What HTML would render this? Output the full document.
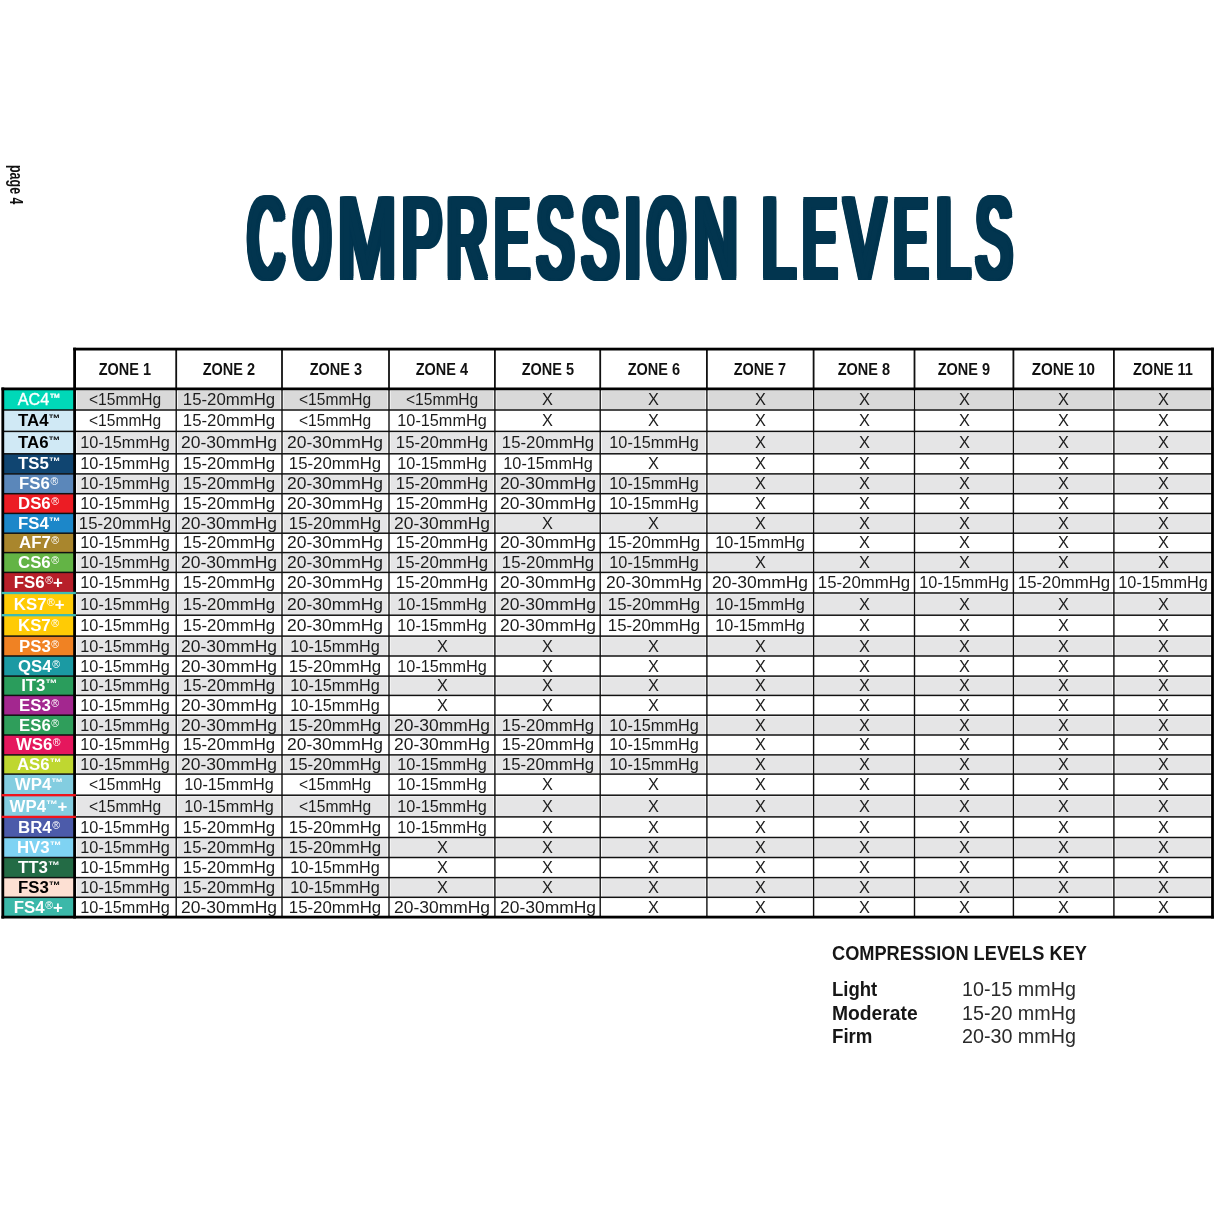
<!DOCTYPE html><html lang="en"><head><meta charset="utf-8"><title>Compression Levels</title><style>html,body{margin:0;padding:0;background:#fff}
body{width:1214px;height:1214px;position:relative;overflow:hidden;font-family:"Liberation Sans",sans-serif;color:#111}
#bg{position:absolute;left:0;top:0}
.t{position:absolute;white-space:nowrap;text-align:center;line-height:20px;height:20px;font-size:16px}
.t span{display:inline-block}
.h{font-weight:700;color:#111}
.c{color:#1c1c1c}
.l sup{line-height:0;font-size:11px;vertical-align:3.8px}
.l sup.r{font-size:10px;vertical-align:4.3px;margin-left:0.5px;font-weight:400}
h1{margin:0;position:absolute;left:0;top:0;font-size:120px;line-height:120px;font-weight:700;color:#02354f;white-space:nowrap}
h1 span{position:absolute;top:0;display:block;transform-origin:0 0}
#pg{position:absolute;font-size:19px;line-height:20px;white-space:nowrap;transform-origin:0 0;color:#111;font-weight:700}
#key{position:absolute;left:832px;top:0;color:#161616}
#key div{position:absolute;white-space:nowrap;transform-origin:0 0}
</style></head><body><svg id="bg" width="1214" height="1214" viewBox="0 0 1214 1214"><rect x="2.8" y="388.9" width="71.8" height="21.1" fill="#00d8b8"/><rect x="2.8" y="410.0" width="71.8" height="21.4" fill="#d0e9f5"/><rect x="2.8" y="431.4" width="71.8" height="22.4" fill="#d0e9f5"/><rect x="2.8" y="453.8" width="71.8" height="20.1" fill="#104571"/><rect x="2.8" y="473.9" width="71.8" height="19.8" fill="#5b87ba"/><rect x="2.8" y="493.7" width="71.8" height="19.7" fill="#ec1c24"/><rect x="2.8" y="513.4" width="71.8" height="19.8" fill="#1c87c9"/><rect x="2.8" y="533.2" width="71.8" height="19.4" fill="#a9862d"/><rect x="2.8" y="552.6" width="71.8" height="19.8" fill="#63b445"/><rect x="2.8" y="572.4" width="71.8" height="20.6" fill="#b71f29"/><rect x="2.8" y="593.0" width="71.8" height="22.2" fill="#ffcb05"/><rect x="2.8" y="615.2" width="71.8" height="20.9" fill="#ffcb05"/><rect x="2.8" y="636.1" width="71.8" height="19.9" fill="#f08223"/><rect x="2.8" y="656.0" width="71.8" height="20.1" fill="#1b9aa3"/><rect x="2.8" y="676.1" width="71.8" height="19.3" fill="#2a9d5c"/><rect x="2.8" y="695.4" width="71.8" height="19.8" fill="#a3278f"/><rect x="2.8" y="715.2" width="71.8" height="19.8" fill="#2f9e5b"/><rect x="2.8" y="735.0" width="71.8" height="19.9" fill="#e5175d"/><rect x="2.8" y="754.9" width="71.8" height="19.2" fill="#bfd730"/><rect x="2.8" y="774.1" width="71.8" height="21.1" fill="#83cde0"/><rect x="2.8" y="795.2" width="71.8" height="21.7" fill="#83cde0"/><rect x="2.8" y="816.9" width="71.8" height="20.6" fill="#4c5baa"/><rect x="2.8" y="837.5" width="71.8" height="20.0" fill="#7fd3f3"/><rect x="2.8" y="857.5" width="71.8" height="20.1" fill="#236b45"/><rect x="2.8" y="877.6" width="71.8" height="19.7" fill="#fde0d3"/><rect x="2.8" y="897.3" width="71.8" height="19.8" fill="#3bb8a9"/><rect x="76.6" y="390.8" width="98.1" height="18.5" fill="#d9d9d9"/><rect x="177.7" y="390.8" width="102.8" height="18.5" fill="#d9d9d9"/><rect x="283.5" y="390.8" width="104.0" height="18.5" fill="#d9d9d9"/><rect x="390.5" y="390.8" width="102.9" height="18.5" fill="#d9d9d9"/><rect x="496.4" y="390.8" width="102.3" height="18.5" fill="#d9d9d9"/><rect x="601.7" y="390.8" width="103.7" height="18.5" fill="#d9d9d9"/><rect x="708.4" y="390.8" width="103.7" height="18.5" fill="#d9d9d9"/><rect x="815.1" y="390.8" width="97.9" height="18.5" fill="#d9d9d9"/><rect x="916.0" y="390.8" width="95.9" height="18.5" fill="#d9d9d9"/><rect x="1014.9" y="390.8" width="97.5" height="18.5" fill="#d9d9d9"/><rect x="1115.4" y="390.8" width="95.1" height="18.5" fill="#d9d9d9"/><rect x="76.6" y="432.6" width="98.1" height="20.5" fill="#e5e5e6"/><rect x="177.7" y="432.6" width="102.8" height="20.5" fill="#e5e5e6"/><rect x="283.5" y="432.6" width="104.0" height="20.5" fill="#e5e5e6"/><rect x="390.5" y="432.6" width="102.9" height="20.5" fill="#e5e5e6"/><rect x="496.4" y="432.6" width="102.3" height="20.5" fill="#e5e5e6"/><rect x="601.7" y="432.6" width="103.7" height="20.5" fill="#e5e5e6"/><rect x="708.4" y="432.6" width="103.7" height="20.5" fill="#e5e5e6"/><rect x="815.1" y="432.6" width="97.9" height="20.5" fill="#e5e5e6"/><rect x="916.0" y="432.6" width="95.9" height="20.5" fill="#e5e5e6"/><rect x="1014.9" y="432.6" width="97.5" height="20.5" fill="#e5e5e6"/><rect x="1115.4" y="432.6" width="95.1" height="20.5" fill="#e5e5e6"/><rect x="76.6" y="475.1" width="98.1" height="17.9" fill="#e5e5e6"/><rect x="177.7" y="475.1" width="102.8" height="17.9" fill="#e5e5e6"/><rect x="283.5" y="475.1" width="104.0" height="17.9" fill="#e5e5e6"/><rect x="390.5" y="475.1" width="102.9" height="17.9" fill="#e5e5e6"/><rect x="496.4" y="475.1" width="102.3" height="17.9" fill="#e5e5e6"/><rect x="601.7" y="475.1" width="103.7" height="17.9" fill="#e5e5e6"/><rect x="708.4" y="475.1" width="103.7" height="17.9" fill="#e5e5e6"/><rect x="815.1" y="475.1" width="97.9" height="17.9" fill="#e5e5e6"/><rect x="916.0" y="475.1" width="95.9" height="17.9" fill="#e5e5e6"/><rect x="1014.9" y="475.1" width="97.5" height="17.9" fill="#e5e5e6"/><rect x="1115.4" y="475.1" width="95.1" height="17.9" fill="#e5e5e6"/><rect x="76.6" y="514.6" width="98.1" height="17.9" fill="#e5e5e6"/><rect x="177.7" y="514.6" width="102.8" height="17.9" fill="#e5e5e6"/><rect x="283.5" y="514.6" width="104.0" height="17.9" fill="#e5e5e6"/><rect x="390.5" y="514.6" width="102.9" height="17.9" fill="#e5e5e6"/><rect x="496.4" y="514.6" width="102.3" height="17.9" fill="#e5e5e6"/><rect x="601.7" y="514.6" width="103.7" height="17.9" fill="#e5e5e6"/><rect x="708.4" y="514.6" width="103.7" height="17.9" fill="#e5e5e6"/><rect x="815.1" y="514.6" width="97.9" height="17.9" fill="#e5e5e6"/><rect x="916.0" y="514.6" width="95.9" height="17.9" fill="#e5e5e6"/><rect x="1014.9" y="514.6" width="97.5" height="17.9" fill="#e5e5e6"/><rect x="1115.4" y="514.6" width="95.1" height="17.9" fill="#e5e5e6"/><rect x="76.6" y="553.8" width="98.1" height="17.9" fill="#e5e5e6"/><rect x="177.7" y="553.8" width="102.8" height="17.9" fill="#e5e5e6"/><rect x="283.5" y="553.8" width="104.0" height="17.9" fill="#e5e5e6"/><rect x="390.5" y="553.8" width="102.9" height="17.9" fill="#e5e5e6"/><rect x="496.4" y="553.8" width="102.3" height="17.9" fill="#e5e5e6"/><rect x="601.7" y="553.8" width="103.7" height="17.9" fill="#e5e5e6"/><rect x="708.4" y="553.8" width="103.7" height="17.9" fill="#e5e5e6"/><rect x="815.1" y="553.8" width="97.9" height="17.9" fill="#e5e5e6"/><rect x="916.0" y="553.8" width="95.9" height="17.9" fill="#e5e5e6"/><rect x="1014.9" y="553.8" width="97.5" height="17.9" fill="#e5e5e6"/><rect x="1115.4" y="553.8" width="95.1" height="17.9" fill="#e5e5e6"/><rect x="76.6" y="594.2" width="98.1" height="20.3" fill="#e5e5e6"/><rect x="177.7" y="594.2" width="102.8" height="20.3" fill="#e5e5e6"/><rect x="283.5" y="594.2" width="104.0" height="20.3" fill="#e5e5e6"/><rect x="390.5" y="594.2" width="102.9" height="20.3" fill="#e5e5e6"/><rect x="496.4" y="594.2" width="102.3" height="20.3" fill="#e5e5e6"/><rect x="601.7" y="594.2" width="103.7" height="20.3" fill="#e5e5e6"/><rect x="708.4" y="594.2" width="103.7" height="20.3" fill="#e5e5e6"/><rect x="815.1" y="594.2" width="97.9" height="20.3" fill="#e5e5e6"/><rect x="916.0" y="594.2" width="95.9" height="20.3" fill="#e5e5e6"/><rect x="1014.9" y="594.2" width="97.5" height="20.3" fill="#e5e5e6"/><rect x="1115.4" y="594.2" width="95.1" height="20.3" fill="#e5e5e6"/><rect x="76.6" y="637.3" width="98.1" height="18.0" fill="#e5e5e6"/><rect x="177.7" y="637.3" width="102.8" height="18.0" fill="#e5e5e6"/><rect x="283.5" y="637.3" width="104.0" height="18.0" fill="#e5e5e6"/><rect x="390.5" y="637.3" width="102.9" height="18.0" fill="#e5e5e6"/><rect x="496.4" y="637.3" width="102.3" height="18.0" fill="#e5e5e6"/><rect x="601.7" y="637.3" width="103.7" height="18.0" fill="#e5e5e6"/><rect x="708.4" y="637.3" width="103.7" height="18.0" fill="#e5e5e6"/><rect x="815.1" y="637.3" width="97.9" height="18.0" fill="#e5e5e6"/><rect x="916.0" y="637.3" width="95.9" height="18.0" fill="#e5e5e6"/><rect x="1014.9" y="637.3" width="97.5" height="18.0" fill="#e5e5e6"/><rect x="1115.4" y="637.3" width="95.1" height="18.0" fill="#e5e5e6"/><rect x="76.6" y="677.3" width="98.1" height="17.4" fill="#e5e5e6"/><rect x="177.7" y="677.3" width="102.8" height="17.4" fill="#e5e5e6"/><rect x="283.5" y="677.3" width="104.0" height="17.4" fill="#e5e5e6"/><rect x="390.5" y="677.3" width="102.9" height="17.4" fill="#e5e5e6"/><rect x="496.4" y="677.3" width="102.3" height="17.4" fill="#e5e5e6"/><rect x="601.7" y="677.3" width="103.7" height="17.4" fill="#e5e5e6"/><rect x="708.4" y="677.3" width="103.7" height="17.4" fill="#e5e5e6"/><rect x="815.1" y="677.3" width="97.9" height="17.4" fill="#e5e5e6"/><rect x="916.0" y="677.3" width="95.9" height="17.4" fill="#e5e5e6"/><rect x="1014.9" y="677.3" width="97.5" height="17.4" fill="#e5e5e6"/><rect x="1115.4" y="677.3" width="95.1" height="17.4" fill="#e5e5e6"/><rect x="76.6" y="716.4" width="98.1" height="17.9" fill="#e5e5e6"/><rect x="177.7" y="716.4" width="102.8" height="17.9" fill="#e5e5e6"/><rect x="283.5" y="716.4" width="104.0" height="17.9" fill="#e5e5e6"/><rect x="390.5" y="716.4" width="102.9" height="17.9" fill="#e5e5e6"/><rect x="496.4" y="716.4" width="102.3" height="17.9" fill="#e5e5e6"/><rect x="601.7" y="716.4" width="103.7" height="17.9" fill="#e5e5e6"/><rect x="708.4" y="716.4" width="103.7" height="17.9" fill="#e5e5e6"/><rect x="815.1" y="716.4" width="97.9" height="17.9" fill="#e5e5e6"/><rect x="916.0" y="716.4" width="95.9" height="17.9" fill="#e5e5e6"/><rect x="1014.9" y="716.4" width="97.5" height="17.9" fill="#e5e5e6"/><rect x="1115.4" y="716.4" width="95.1" height="17.9" fill="#e5e5e6"/><rect x="76.6" y="756.1" width="98.1" height="17.3" fill="#e5e5e6"/><rect x="177.7" y="756.1" width="102.8" height="17.3" fill="#e5e5e6"/><rect x="283.5" y="756.1" width="104.0" height="17.3" fill="#e5e5e6"/><rect x="390.5" y="756.1" width="102.9" height="17.3" fill="#e5e5e6"/><rect x="496.4" y="756.1" width="102.3" height="17.3" fill="#e5e5e6"/><rect x="601.7" y="756.1" width="103.7" height="17.3" fill="#e5e5e6"/><rect x="708.4" y="756.1" width="103.7" height="17.3" fill="#e5e5e6"/><rect x="815.1" y="756.1" width="97.9" height="17.3" fill="#e5e5e6"/><rect x="916.0" y="756.1" width="95.9" height="17.3" fill="#e5e5e6"/><rect x="1014.9" y="756.1" width="97.5" height="17.3" fill="#e5e5e6"/><rect x="1115.4" y="756.1" width="95.1" height="17.3" fill="#e5e5e6"/><rect x="76.6" y="796.4" width="98.1" height="19.8" fill="#e5e5e6"/><rect x="177.7" y="796.4" width="102.8" height="19.8" fill="#e5e5e6"/><rect x="283.5" y="796.4" width="104.0" height="19.8" fill="#e5e5e6"/><rect x="390.5" y="796.4" width="102.9" height="19.8" fill="#e5e5e6"/><rect x="496.4" y="796.4" width="102.3" height="19.8" fill="#e5e5e6"/><rect x="601.7" y="796.4" width="103.7" height="19.8" fill="#e5e5e6"/><rect x="708.4" y="796.4" width="103.7" height="19.8" fill="#e5e5e6"/><rect x="815.1" y="796.4" width="97.9" height="19.8" fill="#e5e5e6"/><rect x="916.0" y="796.4" width="95.9" height="19.8" fill="#e5e5e6"/><rect x="1014.9" y="796.4" width="97.5" height="19.8" fill="#e5e5e6"/><rect x="1115.4" y="796.4" width="95.1" height="19.8" fill="#e5e5e6"/><rect x="76.6" y="838.7" width="98.1" height="18.1" fill="#e5e5e6"/><rect x="177.7" y="838.7" width="102.8" height="18.1" fill="#e5e5e6"/><rect x="283.5" y="838.7" width="104.0" height="18.1" fill="#e5e5e6"/><rect x="390.5" y="838.7" width="102.9" height="18.1" fill="#e5e5e6"/><rect x="496.4" y="838.7" width="102.3" height="18.1" fill="#e5e5e6"/><rect x="601.7" y="838.7" width="103.7" height="18.1" fill="#e5e5e6"/><rect x="708.4" y="838.7" width="103.7" height="18.1" fill="#e5e5e6"/><rect x="815.1" y="838.7" width="97.9" height="18.1" fill="#e5e5e6"/><rect x="916.0" y="838.7" width="95.9" height="18.1" fill="#e5e5e6"/><rect x="1014.9" y="838.7" width="97.5" height="18.1" fill="#e5e5e6"/><rect x="1115.4" y="838.7" width="95.1" height="18.1" fill="#e5e5e6"/><rect x="76.6" y="878.8" width="98.1" height="17.8" fill="#e5e5e6"/><rect x="177.7" y="878.8" width="102.8" height="17.8" fill="#e5e5e6"/><rect x="283.5" y="878.8" width="104.0" height="17.8" fill="#e5e5e6"/><rect x="390.5" y="878.8" width="102.9" height="17.8" fill="#e5e5e6"/><rect x="496.4" y="878.8" width="102.3" height="17.8" fill="#e5e5e6"/><rect x="601.7" y="878.8" width="103.7" height="17.8" fill="#e5e5e6"/><rect x="708.4" y="878.8" width="103.7" height="17.8" fill="#e5e5e6"/><rect x="815.1" y="878.8" width="97.9" height="17.8" fill="#e5e5e6"/><rect x="916.0" y="878.8" width="95.9" height="17.8" fill="#e5e5e6"/><rect x="1014.9" y="878.8" width="97.5" height="17.8" fill="#e5e5e6"/><rect x="1115.4" y="878.8" width="95.1" height="17.8" fill="#e5e5e6"/><rect x="2.8" y="409.25" width="1209.7" height="1.5" fill="#111"/><rect x="2.8" y="430.65" width="1209.7" height="1.5" fill="#111"/><rect x="2.8" y="453.05" width="1209.7" height="1.5" fill="#111"/><rect x="2.8" y="473.15" width="1209.7" height="1.5" fill="#111"/><rect x="2.8" y="492.95" width="1209.7" height="1.5" fill="#111"/><rect x="2.8" y="512.65" width="1209.7" height="1.5" fill="#111"/><rect x="2.8" y="532.45" width="1209.7" height="1.5" fill="#111"/><rect x="2.8" y="551.85" width="1209.7" height="1.5" fill="#111"/><rect x="2.8" y="571.65" width="1209.7" height="1.5" fill="#111"/><rect x="2.8" y="592.25" width="1209.7" height="1.5" fill="#111"/><rect x="2.8" y="614.45" width="1209.7" height="1.5" fill="#111"/><rect x="2.8" y="635.35" width="1209.7" height="1.5" fill="#111"/><rect x="2.8" y="655.25" width="1209.7" height="1.5" fill="#111"/><rect x="2.8" y="675.35" width="1209.7" height="1.5" fill="#111"/><rect x="2.8" y="694.65" width="1209.7" height="1.5" fill="#111"/><rect x="2.8" y="714.45" width="1209.7" height="1.5" fill="#111"/><rect x="2.8" y="734.25" width="1209.7" height="1.5" fill="#111"/><rect x="2.8" y="754.15" width="1209.7" height="1.5" fill="#111"/><rect x="2.8" y="773.35" width="1209.7" height="1.5" fill="#111"/><rect x="2.8" y="794.45" width="1209.7" height="1.5" fill="#111"/><rect x="2.8" y="816.15" width="1209.7" height="1.5" fill="#111"/><rect x="2.8" y="836.75" width="1209.7" height="1.5" fill="#111"/><rect x="2.8" y="856.75" width="1209.7" height="1.5" fill="#111"/><rect x="2.8" y="876.85" width="1209.7" height="1.5" fill="#111"/><rect x="2.8" y="896.55" width="1209.7" height="1.5" fill="#111"/><rect x="175.30" y="349.1" width="1.8" height="39.8" fill="#111"/><rect x="175.50" y="388.9" width="1.4" height="528.2" fill="#111"/><rect x="281.10" y="349.1" width="1.8" height="39.8" fill="#111"/><rect x="281.30" y="388.9" width="1.4" height="528.2" fill="#111"/><rect x="388.10" y="349.1" width="1.8" height="39.8" fill="#111"/><rect x="388.30" y="388.9" width="1.4" height="528.2" fill="#111"/><rect x="494.00" y="349.1" width="1.8" height="39.8" fill="#111"/><rect x="494.20" y="388.9" width="1.4" height="528.2" fill="#111"/><rect x="599.30" y="349.1" width="1.8" height="39.8" fill="#111"/><rect x="599.50" y="388.9" width="1.4" height="528.2" fill="#111"/><rect x="706.00" y="349.1" width="1.8" height="39.8" fill="#111"/><rect x="706.20" y="388.9" width="1.4" height="528.2" fill="#111"/><rect x="812.70" y="349.1" width="1.8" height="39.8" fill="#111"/><rect x="812.90" y="388.9" width="1.4" height="528.2" fill="#111"/><rect x="913.60" y="349.1" width="1.8" height="39.8" fill="#111"/><rect x="913.80" y="388.9" width="1.4" height="528.2" fill="#111"/><rect x="1012.50" y="349.1" width="1.8" height="39.8" fill="#111"/><rect x="1012.70" y="388.9" width="1.4" height="528.2" fill="#111"/><rect x="1113.00" y="349.1" width="1.8" height="39.8" fill="#111"/><rect x="1113.20" y="388.9" width="1.4" height="528.2" fill="#111"/><rect x="73.20" y="347.70" width="1140.70" height="2.8" fill="#000"/><rect x="1.40" y="387.50" width="1212.50" height="2.8" fill="#000"/><rect x="1.40" y="915.70" width="1212.50" height="2.8" fill="#000"/><rect x="1.40" y="387.50" width="2.8" height="531.00" fill="#000"/><rect x="73.20" y="347.70" width="2.8" height="570.80" fill="#000"/><rect x="1211.10" y="347.70" width="2.8" height="570.80" fill="#000"/><rect x="1.5" y="591.85" width="74.4" height="2.3" fill="#3fbdb4"/><rect x="1.5" y="614.05" width="74.4" height="2.3" fill="#3fbdb4"/><rect x="1.5" y="794.05" width="74.4" height="2.3" fill="#f3131b"/><rect x="1.5" y="815.75" width="74.4" height="2.3" fill="#f3131b"/></svg><h1 style="top:180.75px;font-size:115.12px;line-height:115.12px;font-weight:400"><span style="left:247.77px;transform:scaleX(0.4334);text-shadow:-8.77px -1.60px 0 #02354f,-8.77px 0.00px 0 #02354f,-8.77px 1.60px 0 #02354f,-5.84px -1.60px 0 #02354f,-5.84px 0.00px 0 #02354f,-5.84px 1.60px 0 #02354f,-2.92px -1.60px 0 #02354f,-2.92px 0.00px 0 #02354f,-2.92px 1.60px 0 #02354f,0.00px -1.60px 0 #02354f,0.00px 1.60px 0 #02354f,2.92px -1.60px 0 #02354f,2.92px 0.00px 0 #02354f,2.92px 1.60px 0 #02354f,5.84px -1.60px 0 #02354f,5.84px 0.00px 0 #02354f,5.84px 1.60px 0 #02354f,8.77px -1.60px 0 #02354f,8.77px 0.00px 0 #02354f,8.77px 1.60px 0 #02354f">C</span><span style="left:293.90px;transform:scaleX(0.4034);text-shadow:-9.42px -1.60px 0 #02354f,-9.42px 0.00px 0 #02354f,-9.42px 1.60px 0 #02354f,-6.28px -1.60px 0 #02354f,-6.28px 0.00px 0 #02354f,-6.28px 1.60px 0 #02354f,-3.14px -1.60px 0 #02354f,-3.14px 0.00px 0 #02354f,-3.14px 1.60px 0 #02354f,0.00px -1.60px 0 #02354f,0.00px 1.60px 0 #02354f,3.14px -1.60px 0 #02354f,3.14px 0.00px 0 #02354f,3.14px 1.60px 0 #02354f,6.28px -1.60px 0 #02354f,6.28px 0.00px 0 #02354f,6.28px 1.60px 0 #02354f,9.42px -1.60px 0 #02354f,9.42px 0.00px 0 #02354f,9.42px 1.60px 0 #02354f">O</span><span style="left:337.69px;transform:scaleX(0.6051);text-shadow:-6.28px -1.60px 0 #02354f,-6.28px 0.00px 0 #02354f,-6.28px 1.60px 0 #02354f,-4.19px -1.60px 0 #02354f,-4.19px 0.00px 0 #02354f,-4.19px 1.60px 0 #02354f,-2.09px -1.60px 0 #02354f,-2.09px 0.00px 0 #02354f,-2.09px 1.60px 0 #02354f,0.00px -1.60px 0 #02354f,0.00px 1.60px 0 #02354f,2.09px -1.60px 0 #02354f,2.09px 0.00px 0 #02354f,2.09px 1.60px 0 #02354f,4.19px -1.60px 0 #02354f,4.19px 0.00px 0 #02354f,4.19px 1.60px 0 #02354f,6.28px -1.60px 0 #02354f,6.28px 0.00px 0 #02354f,6.28px 1.60px 0 #02354f">M</span><span style="left:402.41px;transform:scaleX(0.5174);text-shadow:-7.34px -1.60px 0 #02354f,-7.34px 0.00px 0 #02354f,-7.34px 1.60px 0 #02354f,-4.90px -1.60px 0 #02354f,-4.90px 0.00px 0 #02354f,-4.90px 1.60px 0 #02354f,-2.45px -1.60px 0 #02354f,-2.45px 0.00px 0 #02354f,-2.45px 1.60px 0 #02354f,0.00px -1.60px 0 #02354f,0.00px 1.60px 0 #02354f,2.45px -1.60px 0 #02354f,2.45px 0.00px 0 #02354f,2.45px 1.60px 0 #02354f,4.90px -1.60px 0 #02354f,4.90px 0.00px 0 #02354f,4.90px 1.60px 0 #02354f,7.34px -1.60px 0 #02354f,7.34px 0.00px 0 #02354f,7.34px 1.60px 0 #02354f">P</span><span style="left:446.85px;transform:scaleX(0.4813);text-shadow:-7.89px -1.60px 0 #02354f,-7.89px 0.00px 0 #02354f,-7.89px 1.60px 0 #02354f,-5.26px -1.60px 0 #02354f,-5.26px 0.00px 0 #02354f,-5.26px 1.60px 0 #02354f,-2.63px -1.60px 0 #02354f,-2.63px 0.00px 0 #02354f,-2.63px 1.60px 0 #02354f,0.00px -1.60px 0 #02354f,0.00px 1.60px 0 #02354f,2.63px -1.60px 0 #02354f,2.63px 0.00px 0 #02354f,2.63px 1.60px 0 #02354f,5.26px -1.60px 0 #02354f,5.26px 0.00px 0 #02354f,5.26px 1.60px 0 #02354f,7.89px -1.60px 0 #02354f,7.89px 0.00px 0 #02354f,7.89px 1.60px 0 #02354f">R</span><span style="left:494.82px;transform:scaleX(0.4424);text-shadow:-8.59px -1.60px 0 #02354f,-8.59px 0.00px 0 #02354f,-8.59px 1.60px 0 #02354f,-5.73px -1.60px 0 #02354f,-5.73px 0.00px 0 #02354f,-5.73px 1.60px 0 #02354f,-2.86px -1.60px 0 #02354f,-2.86px 0.00px 0 #02354f,-2.86px 1.60px 0 #02354f,0.00px -1.60px 0 #02354f,0.00px 1.60px 0 #02354f,2.86px -1.60px 0 #02354f,2.86px 0.00px 0 #02354f,2.86px 1.60px 0 #02354f,5.73px -1.60px 0 #02354f,5.73px 0.00px 0 #02354f,5.73px 1.60px 0 #02354f,8.59px -1.60px 0 #02354f,8.59px 0.00px 0 #02354f,8.59px 1.60px 0 #02354f">E</span><span style="left:537.32px;transform:scaleX(0.4738);text-shadow:-8.02px -1.60px 0 #02354f,-8.02px 0.00px 0 #02354f,-8.02px 1.60px 0 #02354f,-5.35px -1.60px 0 #02354f,-5.35px 0.00px 0 #02354f,-5.35px 1.60px 0 #02354f,-2.67px -1.60px 0 #02354f,-2.67px 0.00px 0 #02354f,-2.67px 1.60px 0 #02354f,0.00px -1.60px 0 #02354f,0.00px 1.60px 0 #02354f,2.67px -1.60px 0 #02354f,2.67px 0.00px 0 #02354f,2.67px 1.60px 0 #02354f,5.35px -1.60px 0 #02354f,5.35px 0.00px 0 #02354f,5.35px 1.60px 0 #02354f,8.02px -1.60px 0 #02354f,8.02px 0.00px 0 #02354f,8.02px 1.60px 0 #02354f">S</span><span style="left:581.63px;transform:scaleX(0.4723);text-shadow:-8.05px -1.60px 0 #02354f,-8.05px 0.00px 0 #02354f,-8.05px 1.60px 0 #02354f,-5.36px -1.60px 0 #02354f,-5.36px 0.00px 0 #02354f,-5.36px 1.60px 0 #02354f,-2.68px -1.60px 0 #02354f,-2.68px 0.00px 0 #02354f,-2.68px 1.60px 0 #02354f,0.00px -1.60px 0 #02354f,0.00px 1.60px 0 #02354f,2.68px -1.60px 0 #02354f,2.68px 0.00px 0 #02354f,2.68px 1.60px 0 #02354f,5.36px -1.60px 0 #02354f,5.36px 0.00px 0 #02354f,5.36px 1.60px 0 #02354f,8.05px -1.60px 0 #02354f,8.05px 0.00px 0 #02354f,8.05px 1.60px 0 #02354f">S</span><span style="left:623.86px;transform:scaleX(0.5402);text-shadow:-7.03px -1.60px 0 #02354f,-7.03px 0.00px 0 #02354f,-7.03px 1.60px 0 #02354f,-4.69px -1.60px 0 #02354f,-4.69px 0.00px 0 #02354f,-4.69px 1.60px 0 #02354f,-2.34px -1.60px 0 #02354f,-2.34px 0.00px 0 #02354f,-2.34px 1.60px 0 #02354f,0.00px -1.60px 0 #02354f,0.00px 1.60px 0 #02354f,2.34px -1.60px 0 #02354f,2.34px 0.00px 0 #02354f,2.34px 1.60px 0 #02354f,4.69px -1.60px 0 #02354f,4.69px 0.00px 0 #02354f,4.69px 1.60px 0 #02354f,7.03px -1.60px 0 #02354f,7.03px 0.00px 0 #02354f,7.03px 1.60px 0 #02354f">I</span><span style="left:648.36px;transform:scaleX(0.4110);text-shadow:-9.24px -1.60px 0 #02354f,-9.24px 0.00px 0 #02354f,-9.24px 1.60px 0 #02354f,-6.16px -1.60px 0 #02354f,-6.16px 0.00px 0 #02354f,-6.16px 1.60px 0 #02354f,-3.08px -1.60px 0 #02354f,-3.08px 0.00px 0 #02354f,-3.08px 1.60px 0 #02354f,0.00px -1.60px 0 #02354f,0.00px 1.60px 0 #02354f,3.08px -1.60px 0 #02354f,3.08px 0.00px 0 #02354f,3.08px 1.60px 0 #02354f,6.16px -1.60px 0 #02354f,6.16px 0.00px 0 #02354f,6.16px 1.60px 0 #02354f,9.24px -1.60px 0 #02354f,9.24px 0.00px 0 #02354f,9.24px 1.60px 0 #02354f">O</span><span style="left:693.58px;transform:scaleX(0.5210);text-shadow:-7.29px -1.60px 0 #02354f,-7.29px 0.00px 0 #02354f,-7.29px 1.60px 0 #02354f,-4.86px -1.60px 0 #02354f,-4.86px 0.00px 0 #02354f,-4.86px 1.60px 0 #02354f,-2.43px -1.60px 0 #02354f,-2.43px 0.00px 0 #02354f,-2.43px 1.60px 0 #02354f,0.00px -1.60px 0 #02354f,0.00px 1.60px 0 #02354f,2.43px -1.60px 0 #02354f,2.43px 0.00px 0 #02354f,2.43px 1.60px 0 #02354f,4.86px -1.60px 0 #02354f,4.86px 0.00px 0 #02354f,4.86px 1.60px 0 #02354f,7.29px -1.60px 0 #02354f,7.29px 0.00px 0 #02354f,7.29px 1.60px 0 #02354f">N</span><span style="left:745px"> </span><span style="left:762.41px;transform:scaleX(0.5181);text-shadow:-7.33px -1.60px 0 #02354f,-7.33px 0.00px 0 #02354f,-7.33px 1.60px 0 #02354f,-4.89px -1.60px 0 #02354f,-4.89px 0.00px 0 #02354f,-4.89px 1.60px 0 #02354f,-2.44px -1.60px 0 #02354f,-2.44px 0.00px 0 #02354f,-2.44px 1.60px 0 #02354f,0.00px -1.60px 0 #02354f,0.00px 1.60px 0 #02354f,2.44px -1.60px 0 #02354f,2.44px 0.00px 0 #02354f,2.44px 1.60px 0 #02354f,4.89px -1.60px 0 #02354f,4.89px 0.00px 0 #02354f,4.89px 1.60px 0 #02354f,7.33px -1.60px 0 #02354f,7.33px 0.00px 0 #02354f,7.33px 1.60px 0 #02354f">L</span><span style="left:803.08px;transform:scaleX(0.4359);text-shadow:-8.72px -1.60px 0 #02354f,-8.72px 0.00px 0 #02354f,-8.72px 1.60px 0 #02354f,-5.81px -1.60px 0 #02354f,-5.81px 0.00px 0 #02354f,-5.81px 1.60px 0 #02354f,-2.91px -1.60px 0 #02354f,-2.91px 0.00px 0 #02354f,-2.91px 1.60px 0 #02354f,0.00px -1.60px 0 #02354f,0.00px 1.60px 0 #02354f,2.91px -1.60px 0 #02354f,2.91px 0.00px 0 #02354f,2.91px 1.60px 0 #02354f,5.81px -1.60px 0 #02354f,5.81px 0.00px 0 #02354f,5.81px 1.60px 0 #02354f,8.72px -1.60px 0 #02354f,8.72px 0.00px 0 #02354f,8.72px 1.60px 0 #02354f">E</span><span style="left:844.94px;transform:scaleX(0.5160);text-shadow:-7.36px -1.60px 0 #02354f,-7.36px 0.00px 0 #02354f,-7.36px 1.60px 0 #02354f,-4.91px -1.60px 0 #02354f,-4.91px 0.00px 0 #02354f,-4.91px 1.60px 0 #02354f,-2.45px -1.60px 0 #02354f,-2.45px 0.00px 0 #02354f,-2.45px 1.60px 0 #02354f,0.00px -1.60px 0 #02354f,0.00px 1.60px 0 #02354f,2.45px -1.60px 0 #02354f,2.45px 0.00px 0 #02354f,2.45px 1.60px 0 #02354f,4.91px -1.60px 0 #02354f,4.91px 0.00px 0 #02354f,4.91px 1.60px 0 #02354f,7.36px -1.60px 0 #02354f,7.36px 0.00px 0 #02354f,7.36px 1.60px 0 #02354f">V</span><span style="left:893.68px;transform:scaleX(0.4359);text-shadow:-8.72px -1.60px 0 #02354f,-8.72px 0.00px 0 #02354f,-8.72px 1.60px 0 #02354f,-5.81px -1.60px 0 #02354f,-5.81px 0.00px 0 #02354f,-5.81px 1.60px 0 #02354f,-2.91px -1.60px 0 #02354f,-2.91px 0.00px 0 #02354f,-2.91px 1.60px 0 #02354f,0.00px -1.60px 0 #02354f,0.00px 1.60px 0 #02354f,2.91px -1.60px 0 #02354f,2.91px 0.00px 0 #02354f,2.91px 1.60px 0 #02354f,5.81px -1.60px 0 #02354f,5.81px 0.00px 0 #02354f,5.81px 1.60px 0 #02354f,8.72px -1.60px 0 #02354f,8.72px 0.00px 0 #02354f,8.72px 1.60px 0 #02354f">E</span><span style="left:935.61px;transform:scaleX(0.5280);text-shadow:-7.20px -1.60px 0 #02354f,-7.20px 0.00px 0 #02354f,-7.20px 1.60px 0 #02354f,-4.80px -1.60px 0 #02354f,-4.80px 0.00px 0 #02354f,-4.80px 1.60px 0 #02354f,-2.40px -1.60px 0 #02354f,-2.40px 0.00px 0 #02354f,-2.40px 1.60px 0 #02354f,0.00px -1.60px 0 #02354f,0.00px 1.60px 0 #02354f,2.40px -1.60px 0 #02354f,2.40px 0.00px 0 #02354f,2.40px 1.60px 0 #02354f,4.80px -1.60px 0 #02354f,4.80px 0.00px 0 #02354f,4.80px 1.60px 0 #02354f,7.20px -1.60px 0 #02354f,7.20px 0.00px 0 #02354f,7.20px 1.60px 0 #02354f">L</span><span style="left:976.25px;transform:scaleX(0.4678);text-shadow:-8.12px -1.60px 0 #02354f,-8.12px 0.00px 0 #02354f,-8.12px 1.60px 0 #02354f,-5.42px -1.60px 0 #02354f,-5.42px 0.00px 0 #02354f,-5.42px 1.60px 0 #02354f,-2.71px -1.60px 0 #02354f,-2.71px 0.00px 0 #02354f,-2.71px 1.60px 0 #02354f,0.00px -1.60px 0 #02354f,0.00px 1.60px 0 #02354f,2.71px -1.60px 0 #02354f,2.71px 0.00px 0 #02354f,2.71px 1.60px 0 #02354f,5.42px -1.60px 0 #02354f,5.42px 0.00px 0 #02354f,5.42px 1.60px 0 #02354f,8.12px -1.60px 0 #02354f,8.12px 0.00px 0 #02354f,8.12px 1.60px 0 #02354f">S</span></h1><div id="pg" style="left:26.4px;top:165px;transform:rotate(90deg) scaleX(0.655)">page 4</div><div class="t h" style="left:74.6px;width:101.6px;top:360px"><span style="transform:scaleX(0.905)">ZONE 1</span></div><div class="t h" style="left:176.2px;width:105.8px;top:360px"><span style="transform:scaleX(0.905)">ZONE 2</span></div><div class="t h" style="left:282.0px;width:107.0px;top:360px"><span style="transform:scaleX(0.905)">ZONE 3</span></div><div class="t h" style="left:389.0px;width:105.9px;top:360px"><span style="transform:scaleX(0.905)">ZONE 4</span></div><div class="t h" style="left:494.9px;width:105.3px;top:360px"><span style="transform:scaleX(0.905)">ZONE 5</span></div><div class="t h" style="left:600.2px;width:106.7px;top:360px"><span style="transform:scaleX(0.905)">ZONE 6</span></div><div class="t h" style="left:706.9px;width:106.7px;top:360px"><span style="transform:scaleX(0.905)">ZONE 7</span></div><div class="t h" style="left:813.6px;width:100.9px;top:360px"><span style="transform:scaleX(0.905)">ZONE 8</span></div><div class="t h" style="left:914.5px;width:98.9px;top:360px"><span style="transform:scaleX(0.905)">ZONE 9</span></div><div class="t h" style="left:1013.4px;width:100.5px;top:360px"><span style="transform:scaleX(0.950)">ZONE 10</span></div><div class="t h" style="left:1113.9px;width:98.6px;top:360px"><span style="transform:scaleX(0.911)">ZONE 11</span></div><div class="t l" style="left:2.8px;width:71.8px;top:390px;color:#fff;font-weight:400;-webkit-text-stroke:0.35px #fff"><span style="transform:scaleX(1.01)">AC4<sup>™</sup></span></div><div class="t c" style="left:74.6px;width:101.6px;top:390px"><span style="transform:scaleX(0.973)">&lt;15mmHg</span></div><div class="t c" style="left:176.2px;width:105.8px;top:390px"><span style="transform:scaleX(1.049)">15-20mmHg</span></div><div class="t c" style="left:282.0px;width:107.0px;top:390px"><span style="transform:scaleX(0.973)">&lt;15mmHg</span></div><div class="t c" style="left:389.0px;width:105.9px;top:390px"><span style="transform:scaleX(0.973)">&lt;15mmHg</span></div><div class="t c" style="left:494.9px;width:105.3px;top:390px"><span style="transform:scaleX(1.019)">X</span></div><div class="t c" style="left:600.2px;width:106.7px;top:390px"><span style="transform:scaleX(1.019)">X</span></div><div class="t c" style="left:706.9px;width:106.7px;top:390px"><span style="transform:scaleX(1.019)">X</span></div><div class="t c" style="left:813.6px;width:100.9px;top:390px"><span style="transform:scaleX(1.019)">X</span></div><div class="t c" style="left:914.5px;width:98.9px;top:390px"><span style="transform:scaleX(1.019)">X</span></div><div class="t c" style="left:1013.4px;width:100.5px;top:390px"><span style="transform:scaleX(1.019)">X</span></div><div class="t c" style="left:1113.9px;width:98.6px;top:390px"><span style="transform:scaleX(1.019)">X</span></div><div class="t l" style="left:2.8px;width:71.8px;top:411px;color:#000;font-weight:700"><span style="transform:scaleX(1.05)">TA4<sup>™</sup></span></div><div class="t c" style="left:74.6px;width:101.6px;top:411px"><span style="transform:scaleX(0.973)">&lt;15mmHg</span></div><div class="t c" style="left:176.2px;width:105.8px;top:411px"><span style="transform:scaleX(1.049)">15-20mmHg</span></div><div class="t c" style="left:282.0px;width:107.0px;top:411px"><span style="transform:scaleX(0.973)">&lt;15mmHg</span></div><div class="t c" style="left:389.0px;width:105.9px;top:411px"><span style="transform:scaleX(1.016)">10-15mmHg</span></div><div class="t c" style="left:494.9px;width:105.3px;top:411px"><span style="transform:scaleX(1.019)">X</span></div><div class="t c" style="left:600.2px;width:106.7px;top:411px"><span style="transform:scaleX(1.019)">X</span></div><div class="t c" style="left:706.9px;width:106.7px;top:411px"><span style="transform:scaleX(1.019)">X</span></div><div class="t c" style="left:813.6px;width:100.9px;top:411px"><span style="transform:scaleX(1.019)">X</span></div><div class="t c" style="left:914.5px;width:98.9px;top:411px"><span style="transform:scaleX(1.019)">X</span></div><div class="t c" style="left:1013.4px;width:100.5px;top:411px"><span style="transform:scaleX(1.019)">X</span></div><div class="t c" style="left:1113.9px;width:98.6px;top:411px"><span style="transform:scaleX(1.019)">X</span></div><div class="t l" style="left:2.8px;width:71.8px;top:433px;color:#000;font-weight:700"><span style="transform:scaleX(1.05)">TA6<sup>™</sup></span></div><div class="t c" style="left:74.6px;width:101.6px;top:433px"><span style="transform:scaleX(1.016)">10-15mmHg</span></div><div class="t c" style="left:176.2px;width:105.8px;top:433px"><span style="transform:scaleX(1.091)">20-30mmHg</span></div><div class="t c" style="left:282.0px;width:107.0px;top:433px"><span style="transform:scaleX(1.091)">20-30mmHg</span></div><div class="t c" style="left:389.0px;width:105.9px;top:433px"><span style="transform:scaleX(1.049)">15-20mmHg</span></div><div class="t c" style="left:494.9px;width:105.3px;top:433px"><span style="transform:scaleX(1.049)">15-20mmHg</span></div><div class="t c" style="left:600.2px;width:106.7px;top:433px"><span style="transform:scaleX(1.016)">10-15mmHg</span></div><div class="t c" style="left:706.9px;width:106.7px;top:433px"><span style="transform:scaleX(1.019)">X</span></div><div class="t c" style="left:813.6px;width:100.9px;top:433px"><span style="transform:scaleX(1.019)">X</span></div><div class="t c" style="left:914.5px;width:98.9px;top:433px"><span style="transform:scaleX(1.019)">X</span></div><div class="t c" style="left:1013.4px;width:100.5px;top:433px"><span style="transform:scaleX(1.019)">X</span></div><div class="t c" style="left:1113.9px;width:98.6px;top:433px"><span style="transform:scaleX(1.019)">X</span></div><div class="t l" style="left:2.8px;width:71.8px;top:454px;color:#fff;font-weight:700"><span style="transform:scaleX(1.05)">TS5<sup>™</sup></span></div><div class="t c" style="left:74.6px;width:101.6px;top:454px"><span style="transform:scaleX(1.016)">10-15mmHg</span></div><div class="t c" style="left:176.2px;width:105.8px;top:454px"><span style="transform:scaleX(1.049)">15-20mmHg</span></div><div class="t c" style="left:282.0px;width:107.0px;top:454px"><span style="transform:scaleX(1.049)">15-20mmHg</span></div><div class="t c" style="left:389.0px;width:105.9px;top:454px"><span style="transform:scaleX(1.016)">10-15mmHg</span></div><div class="t c" style="left:494.9px;width:105.3px;top:454px"><span style="transform:scaleX(1.016)">10-15mmHg</span></div><div class="t c" style="left:600.2px;width:106.7px;top:454px"><span style="transform:scaleX(1.019)">X</span></div><div class="t c" style="left:706.9px;width:106.7px;top:454px"><span style="transform:scaleX(1.019)">X</span></div><div class="t c" style="left:813.6px;width:100.9px;top:454px"><span style="transform:scaleX(1.019)">X</span></div><div class="t c" style="left:914.5px;width:98.9px;top:454px"><span style="transform:scaleX(1.019)">X</span></div><div class="t c" style="left:1013.4px;width:100.5px;top:454px"><span style="transform:scaleX(1.019)">X</span></div><div class="t c" style="left:1113.9px;width:98.6px;top:454px"><span style="transform:scaleX(1.019)">X</span></div><div class="t l" style="left:2.8px;width:71.8px;top:474px;color:#fff;font-weight:700"><span style="transform:scaleX(1.05)">FS6<sup class="r">®</sup></span></div><div class="t c" style="left:74.6px;width:101.6px;top:474px"><span style="transform:scaleX(1.016)">10-15mmHg</span></div><div class="t c" style="left:176.2px;width:105.8px;top:474px"><span style="transform:scaleX(1.049)">15-20mmHg</span></div><div class="t c" style="left:282.0px;width:107.0px;top:474px"><span style="transform:scaleX(1.091)">20-30mmHg</span></div><div class="t c" style="left:389.0px;width:105.9px;top:474px"><span style="transform:scaleX(1.049)">15-20mmHg</span></div><div class="t c" style="left:494.9px;width:105.3px;top:474px"><span style="transform:scaleX(1.091)">20-30mmHg</span></div><div class="t c" style="left:600.2px;width:106.7px;top:474px"><span style="transform:scaleX(1.016)">10-15mmHg</span></div><div class="t c" style="left:706.9px;width:106.7px;top:474px"><span style="transform:scaleX(1.019)">X</span></div><div class="t c" style="left:813.6px;width:100.9px;top:474px"><span style="transform:scaleX(1.019)">X</span></div><div class="t c" style="left:914.5px;width:98.9px;top:474px"><span style="transform:scaleX(1.019)">X</span></div><div class="t c" style="left:1013.4px;width:100.5px;top:474px"><span style="transform:scaleX(1.019)">X</span></div><div class="t c" style="left:1113.9px;width:98.6px;top:474px"><span style="transform:scaleX(1.019)">X</span></div><div class="t l" style="left:2.8px;width:71.8px;top:494px;color:#fff;font-weight:700"><span style="transform:scaleX(1.05)">DS6<sup class="r">®</sup></span></div><div class="t c" style="left:74.6px;width:101.6px;top:494px"><span style="transform:scaleX(1.016)">10-15mmHg</span></div><div class="t c" style="left:176.2px;width:105.8px;top:494px"><span style="transform:scaleX(1.049)">15-20mmHg</span></div><div class="t c" style="left:282.0px;width:107.0px;top:494px"><span style="transform:scaleX(1.091)">20-30mmHg</span></div><div class="t c" style="left:389.0px;width:105.9px;top:494px"><span style="transform:scaleX(1.049)">15-20mmHg</span></div><div class="t c" style="left:494.9px;width:105.3px;top:494px"><span style="transform:scaleX(1.091)">20-30mmHg</span></div><div class="t c" style="left:600.2px;width:106.7px;top:494px"><span style="transform:scaleX(1.016)">10-15mmHg</span></div><div class="t c" style="left:706.9px;width:106.7px;top:494px"><span style="transform:scaleX(1.019)">X</span></div><div class="t c" style="left:813.6px;width:100.9px;top:494px"><span style="transform:scaleX(1.019)">X</span></div><div class="t c" style="left:914.5px;width:98.9px;top:494px"><span style="transform:scaleX(1.019)">X</span></div><div class="t c" style="left:1013.4px;width:100.5px;top:494px"><span style="transform:scaleX(1.019)">X</span></div><div class="t c" style="left:1113.9px;width:98.6px;top:494px"><span style="transform:scaleX(1.019)">X</span></div><div class="t l" style="left:2.8px;width:71.8px;top:514px;color:#fff;font-weight:700"><span style="transform:scaleX(1.05)">FS4<sup>™</sup></span></div><div class="t c" style="left:74.6px;width:101.6px;top:514px"><span style="transform:scaleX(1.049)">15-20mmHg</span></div><div class="t c" style="left:176.2px;width:105.8px;top:514px"><span style="transform:scaleX(1.091)">20-30mmHg</span></div><div class="t c" style="left:282.0px;width:107.0px;top:514px"><span style="transform:scaleX(1.049)">15-20mmHg</span></div><div class="t c" style="left:389.0px;width:105.9px;top:514px"><span style="transform:scaleX(1.091)">20-30mmHg</span></div><div class="t c" style="left:494.9px;width:105.3px;top:514px"><span style="transform:scaleX(1.019)">X</span></div><div class="t c" style="left:600.2px;width:106.7px;top:514px"><span style="transform:scaleX(1.019)">X</span></div><div class="t c" style="left:706.9px;width:106.7px;top:514px"><span style="transform:scaleX(1.019)">X</span></div><div class="t c" style="left:813.6px;width:100.9px;top:514px"><span style="transform:scaleX(1.019)">X</span></div><div class="t c" style="left:914.5px;width:98.9px;top:514px"><span style="transform:scaleX(1.019)">X</span></div><div class="t c" style="left:1013.4px;width:100.5px;top:514px"><span style="transform:scaleX(1.019)">X</span></div><div class="t c" style="left:1113.9px;width:98.6px;top:514px"><span style="transform:scaleX(1.019)">X</span></div><div class="t l" style="left:2.8px;width:71.8px;top:533px;color:#fff;font-weight:700"><span style="transform:scaleX(1.05)">AF7<sup class="r">®</sup></span></div><div class="t c" style="left:74.6px;width:101.6px;top:533px"><span style="transform:scaleX(1.016)">10-15mmHg</span></div><div class="t c" style="left:176.2px;width:105.8px;top:533px"><span style="transform:scaleX(1.049)">15-20mmHg</span></div><div class="t c" style="left:282.0px;width:107.0px;top:533px"><span style="transform:scaleX(1.091)">20-30mmHg</span></div><div class="t c" style="left:389.0px;width:105.9px;top:533px"><span style="transform:scaleX(1.049)">15-20mmHg</span></div><div class="t c" style="left:494.9px;width:105.3px;top:533px"><span style="transform:scaleX(1.091)">20-30mmHg</span></div><div class="t c" style="left:600.2px;width:106.7px;top:533px"><span style="transform:scaleX(1.049)">15-20mmHg</span></div><div class="t c" style="left:706.9px;width:106.7px;top:533px"><span style="transform:scaleX(1.016)">10-15mmHg</span></div><div class="t c" style="left:813.6px;width:100.9px;top:533px"><span style="transform:scaleX(1.019)">X</span></div><div class="t c" style="left:914.5px;width:98.9px;top:533px"><span style="transform:scaleX(1.019)">X</span></div><div class="t c" style="left:1013.4px;width:100.5px;top:533px"><span style="transform:scaleX(1.019)">X</span></div><div class="t c" style="left:1113.9px;width:98.6px;top:533px"><span style="transform:scaleX(1.019)">X</span></div><div class="t l" style="left:2.8px;width:71.8px;top:553px;color:#fff;font-weight:700"><span style="transform:scaleX(1.05)">CS6<sup class="r">®</sup></span></div><div class="t c" style="left:74.6px;width:101.6px;top:553px"><span style="transform:scaleX(1.016)">10-15mmHg</span></div><div class="t c" style="left:176.2px;width:105.8px;top:553px"><span style="transform:scaleX(1.091)">20-30mmHg</span></div><div class="t c" style="left:282.0px;width:107.0px;top:553px"><span style="transform:scaleX(1.091)">20-30mmHg</span></div><div class="t c" style="left:389.0px;width:105.9px;top:553px"><span style="transform:scaleX(1.049)">15-20mmHg</span></div><div class="t c" style="left:494.9px;width:105.3px;top:553px"><span style="transform:scaleX(1.049)">15-20mmHg</span></div><div class="t c" style="left:600.2px;width:106.7px;top:553px"><span style="transform:scaleX(1.016)">10-15mmHg</span></div><div class="t c" style="left:706.9px;width:106.7px;top:553px"><span style="transform:scaleX(1.019)">X</span></div><div class="t c" style="left:813.6px;width:100.9px;top:553px"><span style="transform:scaleX(1.019)">X</span></div><div class="t c" style="left:914.5px;width:98.9px;top:553px"><span style="transform:scaleX(1.019)">X</span></div><div class="t c" style="left:1013.4px;width:100.5px;top:553px"><span style="transform:scaleX(1.019)">X</span></div><div class="t c" style="left:1113.9px;width:98.6px;top:553px"><span style="transform:scaleX(1.019)">X</span></div><div class="t l" style="left:2.8px;width:71.8px;top:573px;color:#fff;font-weight:700"><span style="transform:scaleX(1.05)">FS6<sup class="r">®</sup>+</span></div><div class="t c" style="left:74.6px;width:101.6px;top:573px"><span style="transform:scaleX(1.016)">10-15mmHg</span></div><div class="t c" style="left:176.2px;width:105.8px;top:573px"><span style="transform:scaleX(1.049)">15-20mmHg</span></div><div class="t c" style="left:282.0px;width:107.0px;top:573px"><span style="transform:scaleX(1.091)">20-30mmHg</span></div><div class="t c" style="left:389.0px;width:105.9px;top:573px"><span style="transform:scaleX(1.049)">15-20mmHg</span></div><div class="t c" style="left:494.9px;width:105.3px;top:573px"><span style="transform:scaleX(1.091)">20-30mmHg</span></div><div class="t c" style="left:600.2px;width:106.7px;top:573px"><span style="transform:scaleX(1.091)">20-30mmHg</span></div><div class="t c" style="left:706.9px;width:106.7px;top:573px"><span style="transform:scaleX(1.091)">20-30mmHg</span></div><div class="t c" style="left:813.6px;width:100.9px;top:573px"><span style="transform:scaleX(1.049)">15-20mmHg</span></div><div class="t c" style="left:914.5px;width:98.9px;top:573px"><span style="transform:scaleX(1.016)">10-15mmHg</span></div><div class="t c" style="left:1013.4px;width:100.5px;top:573px"><span style="transform:scaleX(1.049)">15-20mmHg</span></div><div class="t c" style="left:1113.9px;width:98.6px;top:573px"><span style="transform:scaleX(1.016)">10-15mmHg</span></div><div class="t l" style="left:2.8px;width:71.8px;top:595px;color:#fff;font-weight:700"><span style="transform:scaleX(1.05)">KS7<sup class="r">®</sup>+</span></div><div class="t c" style="left:74.6px;width:101.6px;top:595px"><span style="transform:scaleX(1.016)">10-15mmHg</span></div><div class="t c" style="left:176.2px;width:105.8px;top:595px"><span style="transform:scaleX(1.049)">15-20mmHg</span></div><div class="t c" style="left:282.0px;width:107.0px;top:595px"><span style="transform:scaleX(1.091)">20-30mmHg</span></div><div class="t c" style="left:389.0px;width:105.9px;top:595px"><span style="transform:scaleX(1.016)">10-15mmHg</span></div><div class="t c" style="left:494.9px;width:105.3px;top:595px"><span style="transform:scaleX(1.091)">20-30mmHg</span></div><div class="t c" style="left:600.2px;width:106.7px;top:595px"><span style="transform:scaleX(1.049)">15-20mmHg</span></div><div class="t c" style="left:706.9px;width:106.7px;top:595px"><span style="transform:scaleX(1.016)">10-15mmHg</span></div><div class="t c" style="left:813.6px;width:100.9px;top:595px"><span style="transform:scaleX(1.019)">X</span></div><div class="t c" style="left:914.5px;width:98.9px;top:595px"><span style="transform:scaleX(1.019)">X</span></div><div class="t c" style="left:1013.4px;width:100.5px;top:595px"><span style="transform:scaleX(1.019)">X</span></div><div class="t c" style="left:1113.9px;width:98.6px;top:595px"><span style="transform:scaleX(1.019)">X</span></div><div class="t l" style="left:2.8px;width:71.8px;top:616px;color:#fff;font-weight:700"><span style="transform:scaleX(1.05)">KS7<sup class="r">®</sup></span></div><div class="t c" style="left:74.6px;width:101.6px;top:616px"><span style="transform:scaleX(1.016)">10-15mmHg</span></div><div class="t c" style="left:176.2px;width:105.8px;top:616px"><span style="transform:scaleX(1.049)">15-20mmHg</span></div><div class="t c" style="left:282.0px;width:107.0px;top:616px"><span style="transform:scaleX(1.091)">20-30mmHg</span></div><div class="t c" style="left:389.0px;width:105.9px;top:616px"><span style="transform:scaleX(1.016)">10-15mmHg</span></div><div class="t c" style="left:494.9px;width:105.3px;top:616px"><span style="transform:scaleX(1.091)">20-30mmHg</span></div><div class="t c" style="left:600.2px;width:106.7px;top:616px"><span style="transform:scaleX(1.049)">15-20mmHg</span></div><div class="t c" style="left:706.9px;width:106.7px;top:616px"><span style="transform:scaleX(1.016)">10-15mmHg</span></div><div class="t c" style="left:813.6px;width:100.9px;top:616px"><span style="transform:scaleX(1.019)">X</span></div><div class="t c" style="left:914.5px;width:98.9px;top:616px"><span style="transform:scaleX(1.019)">X</span></div><div class="t c" style="left:1013.4px;width:100.5px;top:616px"><span style="transform:scaleX(1.019)">X</span></div><div class="t c" style="left:1113.9px;width:98.6px;top:616px"><span style="transform:scaleX(1.019)">X</span></div><div class="t l" style="left:2.8px;width:71.8px;top:637px;color:#fff;font-weight:700"><span style="transform:scaleX(1.05)">PS3<sup class="r">®</sup></span></div><div class="t c" style="left:74.6px;width:101.6px;top:637px"><span style="transform:scaleX(1.016)">10-15mmHg</span></div><div class="t c" style="left:176.2px;width:105.8px;top:637px"><span style="transform:scaleX(1.091)">20-30mmHg</span></div><div class="t c" style="left:282.0px;width:107.0px;top:637px"><span style="transform:scaleX(1.016)">10-15mmHg</span></div><div class="t c" style="left:389.0px;width:105.9px;top:637px"><span style="transform:scaleX(1.019)">X</span></div><div class="t c" style="left:494.9px;width:105.3px;top:637px"><span style="transform:scaleX(1.019)">X</span></div><div class="t c" style="left:600.2px;width:106.7px;top:637px"><span style="transform:scaleX(1.019)">X</span></div><div class="t c" style="left:706.9px;width:106.7px;top:637px"><span style="transform:scaleX(1.019)">X</span></div><div class="t c" style="left:813.6px;width:100.9px;top:637px"><span style="transform:scaleX(1.019)">X</span></div><div class="t c" style="left:914.5px;width:98.9px;top:637px"><span style="transform:scaleX(1.019)">X</span></div><div class="t c" style="left:1013.4px;width:100.5px;top:637px"><span style="transform:scaleX(1.019)">X</span></div><div class="t c" style="left:1113.9px;width:98.6px;top:637px"><span style="transform:scaleX(1.019)">X</span></div><div class="t l" style="left:2.8px;width:71.8px;top:657px;color:#fff;font-weight:700"><span style="transform:scaleX(1.05)">QS4<sup class="r">®</sup></span></div><div class="t c" style="left:74.6px;width:101.6px;top:657px"><span style="transform:scaleX(1.016)">10-15mmHg</span></div><div class="t c" style="left:176.2px;width:105.8px;top:657px"><span style="transform:scaleX(1.091)">20-30mmHg</span></div><div class="t c" style="left:282.0px;width:107.0px;top:657px"><span style="transform:scaleX(1.049)">15-20mmHg</span></div><div class="t c" style="left:389.0px;width:105.9px;top:657px"><span style="transform:scaleX(1.016)">10-15mmHg</span></div><div class="t c" style="left:494.9px;width:105.3px;top:657px"><span style="transform:scaleX(1.019)">X</span></div><div class="t c" style="left:600.2px;width:106.7px;top:657px"><span style="transform:scaleX(1.019)">X</span></div><div class="t c" style="left:706.9px;width:106.7px;top:657px"><span style="transform:scaleX(1.019)">X</span></div><div class="t c" style="left:813.6px;width:100.9px;top:657px"><span style="transform:scaleX(1.019)">X</span></div><div class="t c" style="left:914.5px;width:98.9px;top:657px"><span style="transform:scaleX(1.019)">X</span></div><div class="t c" style="left:1013.4px;width:100.5px;top:657px"><span style="transform:scaleX(1.019)">X</span></div><div class="t c" style="left:1113.9px;width:98.6px;top:657px"><span style="transform:scaleX(1.019)">X</span></div><div class="t l" style="left:2.8px;width:71.8px;top:676px;color:#fff;font-weight:700"><span style="transform:scaleX(1.05)">IT3<sup>™</sup></span></div><div class="t c" style="left:74.6px;width:101.6px;top:676px"><span style="transform:scaleX(1.016)">10-15mmHg</span></div><div class="t c" style="left:176.2px;width:105.8px;top:676px"><span style="transform:scaleX(1.049)">15-20mmHg</span></div><div class="t c" style="left:282.0px;width:107.0px;top:676px"><span style="transform:scaleX(1.016)">10-15mmHg</span></div><div class="t c" style="left:389.0px;width:105.9px;top:676px"><span style="transform:scaleX(1.019)">X</span></div><div class="t c" style="left:494.9px;width:105.3px;top:676px"><span style="transform:scaleX(1.019)">X</span></div><div class="t c" style="left:600.2px;width:106.7px;top:676px"><span style="transform:scaleX(1.019)">X</span></div><div class="t c" style="left:706.9px;width:106.7px;top:676px"><span style="transform:scaleX(1.019)">X</span></div><div class="t c" style="left:813.6px;width:100.9px;top:676px"><span style="transform:scaleX(1.019)">X</span></div><div class="t c" style="left:914.5px;width:98.9px;top:676px"><span style="transform:scaleX(1.019)">X</span></div><div class="t c" style="left:1013.4px;width:100.5px;top:676px"><span style="transform:scaleX(1.019)">X</span></div><div class="t c" style="left:1113.9px;width:98.6px;top:676px"><span style="transform:scaleX(1.019)">X</span></div><div class="t l" style="left:2.8px;width:71.8px;top:696px;color:#fff;font-weight:700"><span style="transform:scaleX(1.05)">ES3<sup class="r">®</sup></span></div><div class="t c" style="left:74.6px;width:101.6px;top:696px"><span style="transform:scaleX(1.016)">10-15mmHg</span></div><div class="t c" style="left:176.2px;width:105.8px;top:696px"><span style="transform:scaleX(1.091)">20-30mmHg</span></div><div class="t c" style="left:282.0px;width:107.0px;top:696px"><span style="transform:scaleX(1.016)">10-15mmHg</span></div><div class="t c" style="left:389.0px;width:105.9px;top:696px"><span style="transform:scaleX(1.019)">X</span></div><div class="t c" style="left:494.9px;width:105.3px;top:696px"><span style="transform:scaleX(1.019)">X</span></div><div class="t c" style="left:600.2px;width:106.7px;top:696px"><span style="transform:scaleX(1.019)">X</span></div><div class="t c" style="left:706.9px;width:106.7px;top:696px"><span style="transform:scaleX(1.019)">X</span></div><div class="t c" style="left:813.6px;width:100.9px;top:696px"><span style="transform:scaleX(1.019)">X</span></div><div class="t c" style="left:914.5px;width:98.9px;top:696px"><span style="transform:scaleX(1.019)">X</span></div><div class="t c" style="left:1013.4px;width:100.5px;top:696px"><span style="transform:scaleX(1.019)">X</span></div><div class="t c" style="left:1113.9px;width:98.6px;top:696px"><span style="transform:scaleX(1.019)">X</span></div><div class="t l" style="left:2.8px;width:71.8px;top:716px;color:#fff;font-weight:700"><span style="transform:scaleX(1.05)">ES6<sup class="r">®</sup></span></div><div class="t c" style="left:74.6px;width:101.6px;top:716px"><span style="transform:scaleX(1.016)">10-15mmHg</span></div><div class="t c" style="left:176.2px;width:105.8px;top:716px"><span style="transform:scaleX(1.091)">20-30mmHg</span></div><div class="t c" style="left:282.0px;width:107.0px;top:716px"><span style="transform:scaleX(1.049)">15-20mmHg</span></div><div class="t c" style="left:389.0px;width:105.9px;top:716px"><span style="transform:scaleX(1.091)">20-30mmHg</span></div><div class="t c" style="left:494.9px;width:105.3px;top:716px"><span style="transform:scaleX(1.049)">15-20mmHg</span></div><div class="t c" style="left:600.2px;width:106.7px;top:716px"><span style="transform:scaleX(1.016)">10-15mmHg</span></div><div class="t c" style="left:706.9px;width:106.7px;top:716px"><span style="transform:scaleX(1.019)">X</span></div><div class="t c" style="left:813.6px;width:100.9px;top:716px"><span style="transform:scaleX(1.019)">X</span></div><div class="t c" style="left:914.5px;width:98.9px;top:716px"><span style="transform:scaleX(1.019)">X</span></div><div class="t c" style="left:1013.4px;width:100.5px;top:716px"><span style="transform:scaleX(1.019)">X</span></div><div class="t c" style="left:1113.9px;width:98.6px;top:716px"><span style="transform:scaleX(1.019)">X</span></div><div class="t l" style="left:2.8px;width:71.8px;top:735px;color:#fff;font-weight:700"><span style="transform:scaleX(1.05)">WS6<sup class="r">®</sup></span></div><div class="t c" style="left:74.6px;width:101.6px;top:735px"><span style="transform:scaleX(1.016)">10-15mmHg</span></div><div class="t c" style="left:176.2px;width:105.8px;top:735px"><span style="transform:scaleX(1.049)">15-20mmHg</span></div><div class="t c" style="left:282.0px;width:107.0px;top:735px"><span style="transform:scaleX(1.091)">20-30mmHg</span></div><div class="t c" style="left:389.0px;width:105.9px;top:735px"><span style="transform:scaleX(1.091)">20-30mmHg</span></div><div class="t c" style="left:494.9px;width:105.3px;top:735px"><span style="transform:scaleX(1.049)">15-20mmHg</span></div><div class="t c" style="left:600.2px;width:106.7px;top:735px"><span style="transform:scaleX(1.016)">10-15mmHg</span></div><div class="t c" style="left:706.9px;width:106.7px;top:735px"><span style="transform:scaleX(1.019)">X</span></div><div class="t c" style="left:813.6px;width:100.9px;top:735px"><span style="transform:scaleX(1.019)">X</span></div><div class="t c" style="left:914.5px;width:98.9px;top:735px"><span style="transform:scaleX(1.019)">X</span></div><div class="t c" style="left:1013.4px;width:100.5px;top:735px"><span style="transform:scaleX(1.019)">X</span></div><div class="t c" style="left:1113.9px;width:98.6px;top:735px"><span style="transform:scaleX(1.019)">X</span></div><div class="t l" style="left:2.8px;width:71.8px;top:755px;color:#fff;font-weight:700"><span style="transform:scaleX(1.05)">AS6<sup>™</sup></span></div><div class="t c" style="left:74.6px;width:101.6px;top:755px"><span style="transform:scaleX(1.016)">10-15mmHg</span></div><div class="t c" style="left:176.2px;width:105.8px;top:755px"><span style="transform:scaleX(1.091)">20-30mmHg</span></div><div class="t c" style="left:282.0px;width:107.0px;top:755px"><span style="transform:scaleX(1.049)">15-20mmHg</span></div><div class="t c" style="left:389.0px;width:105.9px;top:755px"><span style="transform:scaleX(1.016)">10-15mmHg</span></div><div class="t c" style="left:494.9px;width:105.3px;top:755px"><span style="transform:scaleX(1.049)">15-20mmHg</span></div><div class="t c" style="left:600.2px;width:106.7px;top:755px"><span style="transform:scaleX(1.016)">10-15mmHg</span></div><div class="t c" style="left:706.9px;width:106.7px;top:755px"><span style="transform:scaleX(1.019)">X</span></div><div class="t c" style="left:813.6px;width:100.9px;top:755px"><span style="transform:scaleX(1.019)">X</span></div><div class="t c" style="left:914.5px;width:98.9px;top:755px"><span style="transform:scaleX(1.019)">X</span></div><div class="t c" style="left:1013.4px;width:100.5px;top:755px"><span style="transform:scaleX(1.019)">X</span></div><div class="t c" style="left:1113.9px;width:98.6px;top:755px"><span style="transform:scaleX(1.019)">X</span></div><div class="t l" style="left:2.8px;width:71.8px;top:775px;color:#fff;font-weight:700"><span style="transform:scaleX(1.05)">WP4<sup>™</sup></span></div><div class="t c" style="left:74.6px;width:101.6px;top:775px"><span style="transform:scaleX(0.973)">&lt;15mmHg</span></div><div class="t c" style="left:176.2px;width:105.8px;top:775px"><span style="transform:scaleX(1.016)">10-15mmHg</span></div><div class="t c" style="left:282.0px;width:107.0px;top:775px"><span style="transform:scaleX(0.973)">&lt;15mmHg</span></div><div class="t c" style="left:389.0px;width:105.9px;top:775px"><span style="transform:scaleX(1.016)">10-15mmHg</span></div><div class="t c" style="left:494.9px;width:105.3px;top:775px"><span style="transform:scaleX(1.019)">X</span></div><div class="t c" style="left:600.2px;width:106.7px;top:775px"><span style="transform:scaleX(1.019)">X</span></div><div class="t c" style="left:706.9px;width:106.7px;top:775px"><span style="transform:scaleX(1.019)">X</span></div><div class="t c" style="left:813.6px;width:100.9px;top:775px"><span style="transform:scaleX(1.019)">X</span></div><div class="t c" style="left:914.5px;width:98.9px;top:775px"><span style="transform:scaleX(1.019)">X</span></div><div class="t c" style="left:1013.4px;width:100.5px;top:775px"><span style="transform:scaleX(1.019)">X</span></div><div class="t c" style="left:1113.9px;width:98.6px;top:775px"><span style="transform:scaleX(1.019)">X</span></div><div class="t l" style="left:2.8px;width:71.8px;top:797px;color:#fff;font-weight:700"><span style="transform:scaleX(1.05)">WP4<sup>™</sup>+</span></div><div class="t c" style="left:74.6px;width:101.6px;top:797px"><span style="transform:scaleX(0.973)">&lt;15mmHg</span></div><div class="t c" style="left:176.2px;width:105.8px;top:797px"><span style="transform:scaleX(1.016)">10-15mmHg</span></div><div class="t c" style="left:282.0px;width:107.0px;top:797px"><span style="transform:scaleX(0.973)">&lt;15mmHg</span></div><div class="t c" style="left:389.0px;width:105.9px;top:797px"><span style="transform:scaleX(1.016)">10-15mmHg</span></div><div class="t c" style="left:494.9px;width:105.3px;top:797px"><span style="transform:scaleX(1.019)">X</span></div><div class="t c" style="left:600.2px;width:106.7px;top:797px"><span style="transform:scaleX(1.019)">X</span></div><div class="t c" style="left:706.9px;width:106.7px;top:797px"><span style="transform:scaleX(1.019)">X</span></div><div class="t c" style="left:813.6px;width:100.9px;top:797px"><span style="transform:scaleX(1.019)">X</span></div><div class="t c" style="left:914.5px;width:98.9px;top:797px"><span style="transform:scaleX(1.019)">X</span></div><div class="t c" style="left:1013.4px;width:100.5px;top:797px"><span style="transform:scaleX(1.019)">X</span></div><div class="t c" style="left:1113.9px;width:98.6px;top:797px"><span style="transform:scaleX(1.019)">X</span></div><div class="t l" style="left:2.8px;width:71.8px;top:818px;color:#fff;font-weight:700"><span style="transform:scaleX(1.05)">BR4<sup class="r">®</sup></span></div><div class="t c" style="left:74.6px;width:101.6px;top:818px"><span style="transform:scaleX(1.016)">10-15mmHg</span></div><div class="t c" style="left:176.2px;width:105.8px;top:818px"><span style="transform:scaleX(1.049)">15-20mmHg</span></div><div class="t c" style="left:282.0px;width:107.0px;top:818px"><span style="transform:scaleX(1.049)">15-20mmHg</span></div><div class="t c" style="left:389.0px;width:105.9px;top:818px"><span style="transform:scaleX(1.016)">10-15mmHg</span></div><div class="t c" style="left:494.9px;width:105.3px;top:818px"><span style="transform:scaleX(1.019)">X</span></div><div class="t c" style="left:600.2px;width:106.7px;top:818px"><span style="transform:scaleX(1.019)">X</span></div><div class="t c" style="left:706.9px;width:106.7px;top:818px"><span style="transform:scaleX(1.019)">X</span></div><div class="t c" style="left:813.6px;width:100.9px;top:818px"><span style="transform:scaleX(1.019)">X</span></div><div class="t c" style="left:914.5px;width:98.9px;top:818px"><span style="transform:scaleX(1.019)">X</span></div><div class="t c" style="left:1013.4px;width:100.5px;top:818px"><span style="transform:scaleX(1.019)">X</span></div><div class="t c" style="left:1113.9px;width:98.6px;top:818px"><span style="transform:scaleX(1.019)">X</span></div><div class="t l" style="left:2.8px;width:71.8px;top:838px;color:#fff;font-weight:700"><span style="transform:scaleX(1.05)">HV3<sup>™</sup></span></div><div class="t c" style="left:74.6px;width:101.6px;top:838px"><span style="transform:scaleX(1.016)">10-15mmHg</span></div><div class="t c" style="left:176.2px;width:105.8px;top:838px"><span style="transform:scaleX(1.049)">15-20mmHg</span></div><div class="t c" style="left:282.0px;width:107.0px;top:838px"><span style="transform:scaleX(1.049)">15-20mmHg</span></div><div class="t c" style="left:389.0px;width:105.9px;top:838px"><span style="transform:scaleX(1.019)">X</span></div><div class="t c" style="left:494.9px;width:105.3px;top:838px"><span style="transform:scaleX(1.019)">X</span></div><div class="t c" style="left:600.2px;width:106.7px;top:838px"><span style="transform:scaleX(1.019)">X</span></div><div class="t c" style="left:706.9px;width:106.7px;top:838px"><span style="transform:scaleX(1.019)">X</span></div><div class="t c" style="left:813.6px;width:100.9px;top:838px"><span style="transform:scaleX(1.019)">X</span></div><div class="t c" style="left:914.5px;width:98.9px;top:838px"><span style="transform:scaleX(1.019)">X</span></div><div class="t c" style="left:1013.4px;width:100.5px;top:838px"><span style="transform:scaleX(1.019)">X</span></div><div class="t c" style="left:1113.9px;width:98.6px;top:838px"><span style="transform:scaleX(1.019)">X</span></div><div class="t l" style="left:2.8px;width:71.8px;top:858px;color:#fff;font-weight:700"><span style="transform:scaleX(1.05)">TT3<sup>™</sup></span></div><div class="t c" style="left:74.6px;width:101.6px;top:858px"><span style="transform:scaleX(1.016)">10-15mmHg</span></div><div class="t c" style="left:176.2px;width:105.8px;top:858px"><span style="transform:scaleX(1.049)">15-20mmHg</span></div><div class="t c" style="left:282.0px;width:107.0px;top:858px"><span style="transform:scaleX(1.016)">10-15mmHg</span></div><div class="t c" style="left:389.0px;width:105.9px;top:858px"><span style="transform:scaleX(1.019)">X</span></div><div class="t c" style="left:494.9px;width:105.3px;top:858px"><span style="transform:scaleX(1.019)">X</span></div><div class="t c" style="left:600.2px;width:106.7px;top:858px"><span style="transform:scaleX(1.019)">X</span></div><div class="t c" style="left:706.9px;width:106.7px;top:858px"><span style="transform:scaleX(1.019)">X</span></div><div class="t c" style="left:813.6px;width:100.9px;top:858px"><span style="transform:scaleX(1.019)">X</span></div><div class="t c" style="left:914.5px;width:98.9px;top:858px"><span style="transform:scaleX(1.019)">X</span></div><div class="t c" style="left:1013.4px;width:100.5px;top:858px"><span style="transform:scaleX(1.019)">X</span></div><div class="t c" style="left:1113.9px;width:98.6px;top:858px"><span style="transform:scaleX(1.019)">X</span></div><div class="t l" style="left:2.8px;width:71.8px;top:878px;color:#000;font-weight:700"><span style="transform:scaleX(1.05)">FS3<sup>™</sup></span></div><div class="t c" style="left:74.6px;width:101.6px;top:878px"><span style="transform:scaleX(1.016)">10-15mmHg</span></div><div class="t c" style="left:176.2px;width:105.8px;top:878px"><span style="transform:scaleX(1.049)">15-20mmHg</span></div><div class="t c" style="left:282.0px;width:107.0px;top:878px"><span style="transform:scaleX(1.016)">10-15mmHg</span></div><div class="t c" style="left:389.0px;width:105.9px;top:878px"><span style="transform:scaleX(1.019)">X</span></div><div class="t c" style="left:494.9px;width:105.3px;top:878px"><span style="transform:scaleX(1.019)">X</span></div><div class="t c" style="left:600.2px;width:106.7px;top:878px"><span style="transform:scaleX(1.019)">X</span></div><div class="t c" style="left:706.9px;width:106.7px;top:878px"><span style="transform:scaleX(1.019)">X</span></div><div class="t c" style="left:813.6px;width:100.9px;top:878px"><span style="transform:scaleX(1.019)">X</span></div><div class="t c" style="left:914.5px;width:98.9px;top:878px"><span style="transform:scaleX(1.019)">X</span></div><div class="t c" style="left:1013.4px;width:100.5px;top:878px"><span style="transform:scaleX(1.019)">X</span></div><div class="t c" style="left:1113.9px;width:98.6px;top:878px"><span style="transform:scaleX(1.019)">X</span></div><div class="t l" style="left:2.8px;width:71.8px;top:898px;color:#fff;font-weight:700"><span style="transform:scaleX(1.05)">FS4<sup class="r">®</sup>+</span></div><div class="t c" style="left:74.6px;width:101.6px;top:898px"><span style="transform:scaleX(1.016)">10-15mmHg</span></div><div class="t c" style="left:176.2px;width:105.8px;top:898px"><span style="transform:scaleX(1.091)">20-30mmHg</span></div><div class="t c" style="left:282.0px;width:107.0px;top:898px"><span style="transform:scaleX(1.049)">15-20mmHg</span></div><div class="t c" style="left:389.0px;width:105.9px;top:898px"><span style="transform:scaleX(1.091)">20-30mmHg</span></div><div class="t c" style="left:494.9px;width:105.3px;top:898px"><span style="transform:scaleX(1.091)">20-30mmHg</span></div><div class="t c" style="left:600.2px;width:106.7px;top:898px"><span style="transform:scaleX(1.019)">X</span></div><div class="t c" style="left:706.9px;width:106.7px;top:898px"><span style="transform:scaleX(1.019)">X</span></div><div class="t c" style="left:813.6px;width:100.9px;top:898px"><span style="transform:scaleX(1.019)">X</span></div><div class="t c" style="left:914.5px;width:98.9px;top:898px"><span style="transform:scaleX(1.019)">X</span></div><div class="t c" style="left:1013.4px;width:100.5px;top:898px"><span style="transform:scaleX(1.019)">X</span></div><div class="t c" style="left:1113.9px;width:98.6px;top:898px"><span style="transform:scaleX(1.019)">X</span></div><div id="key"><div style="left:0;top:941px;font-size:20px;line-height:24px;font-weight:700;transform:scaleX(0.9103)">COMPRESSION LEVELS KEY</div><div style="left:0;top:977px;font-size:20px;line-height:24px;font-weight:700;transform:scaleX(0.926)">Light</div><div style="left:129.5px;top:977px;font-size:20px;line-height:24px;color:#2a2a2a;transform:scaleX(0.985)">10-15 mmHg</div><div style="left:0;top:1001px;font-size:20px;line-height:24px;font-weight:700;transform:scaleX(0.964)">Moderate</div><div style="left:129.5px;top:1001px;font-size:20px;line-height:24px;color:#2a2a2a;transform:scaleX(0.985)">15-20 mmHg</div><div style="left:0;top:1024px;font-size:20px;line-height:24px;font-weight:700;transform:scaleX(0.933)">Firm</div><div style="left:129.5px;top:1024px;font-size:20px;line-height:24px;color:#2a2a2a;transform:scaleX(0.985)">20-30 mmHg</div></div></body></html>
